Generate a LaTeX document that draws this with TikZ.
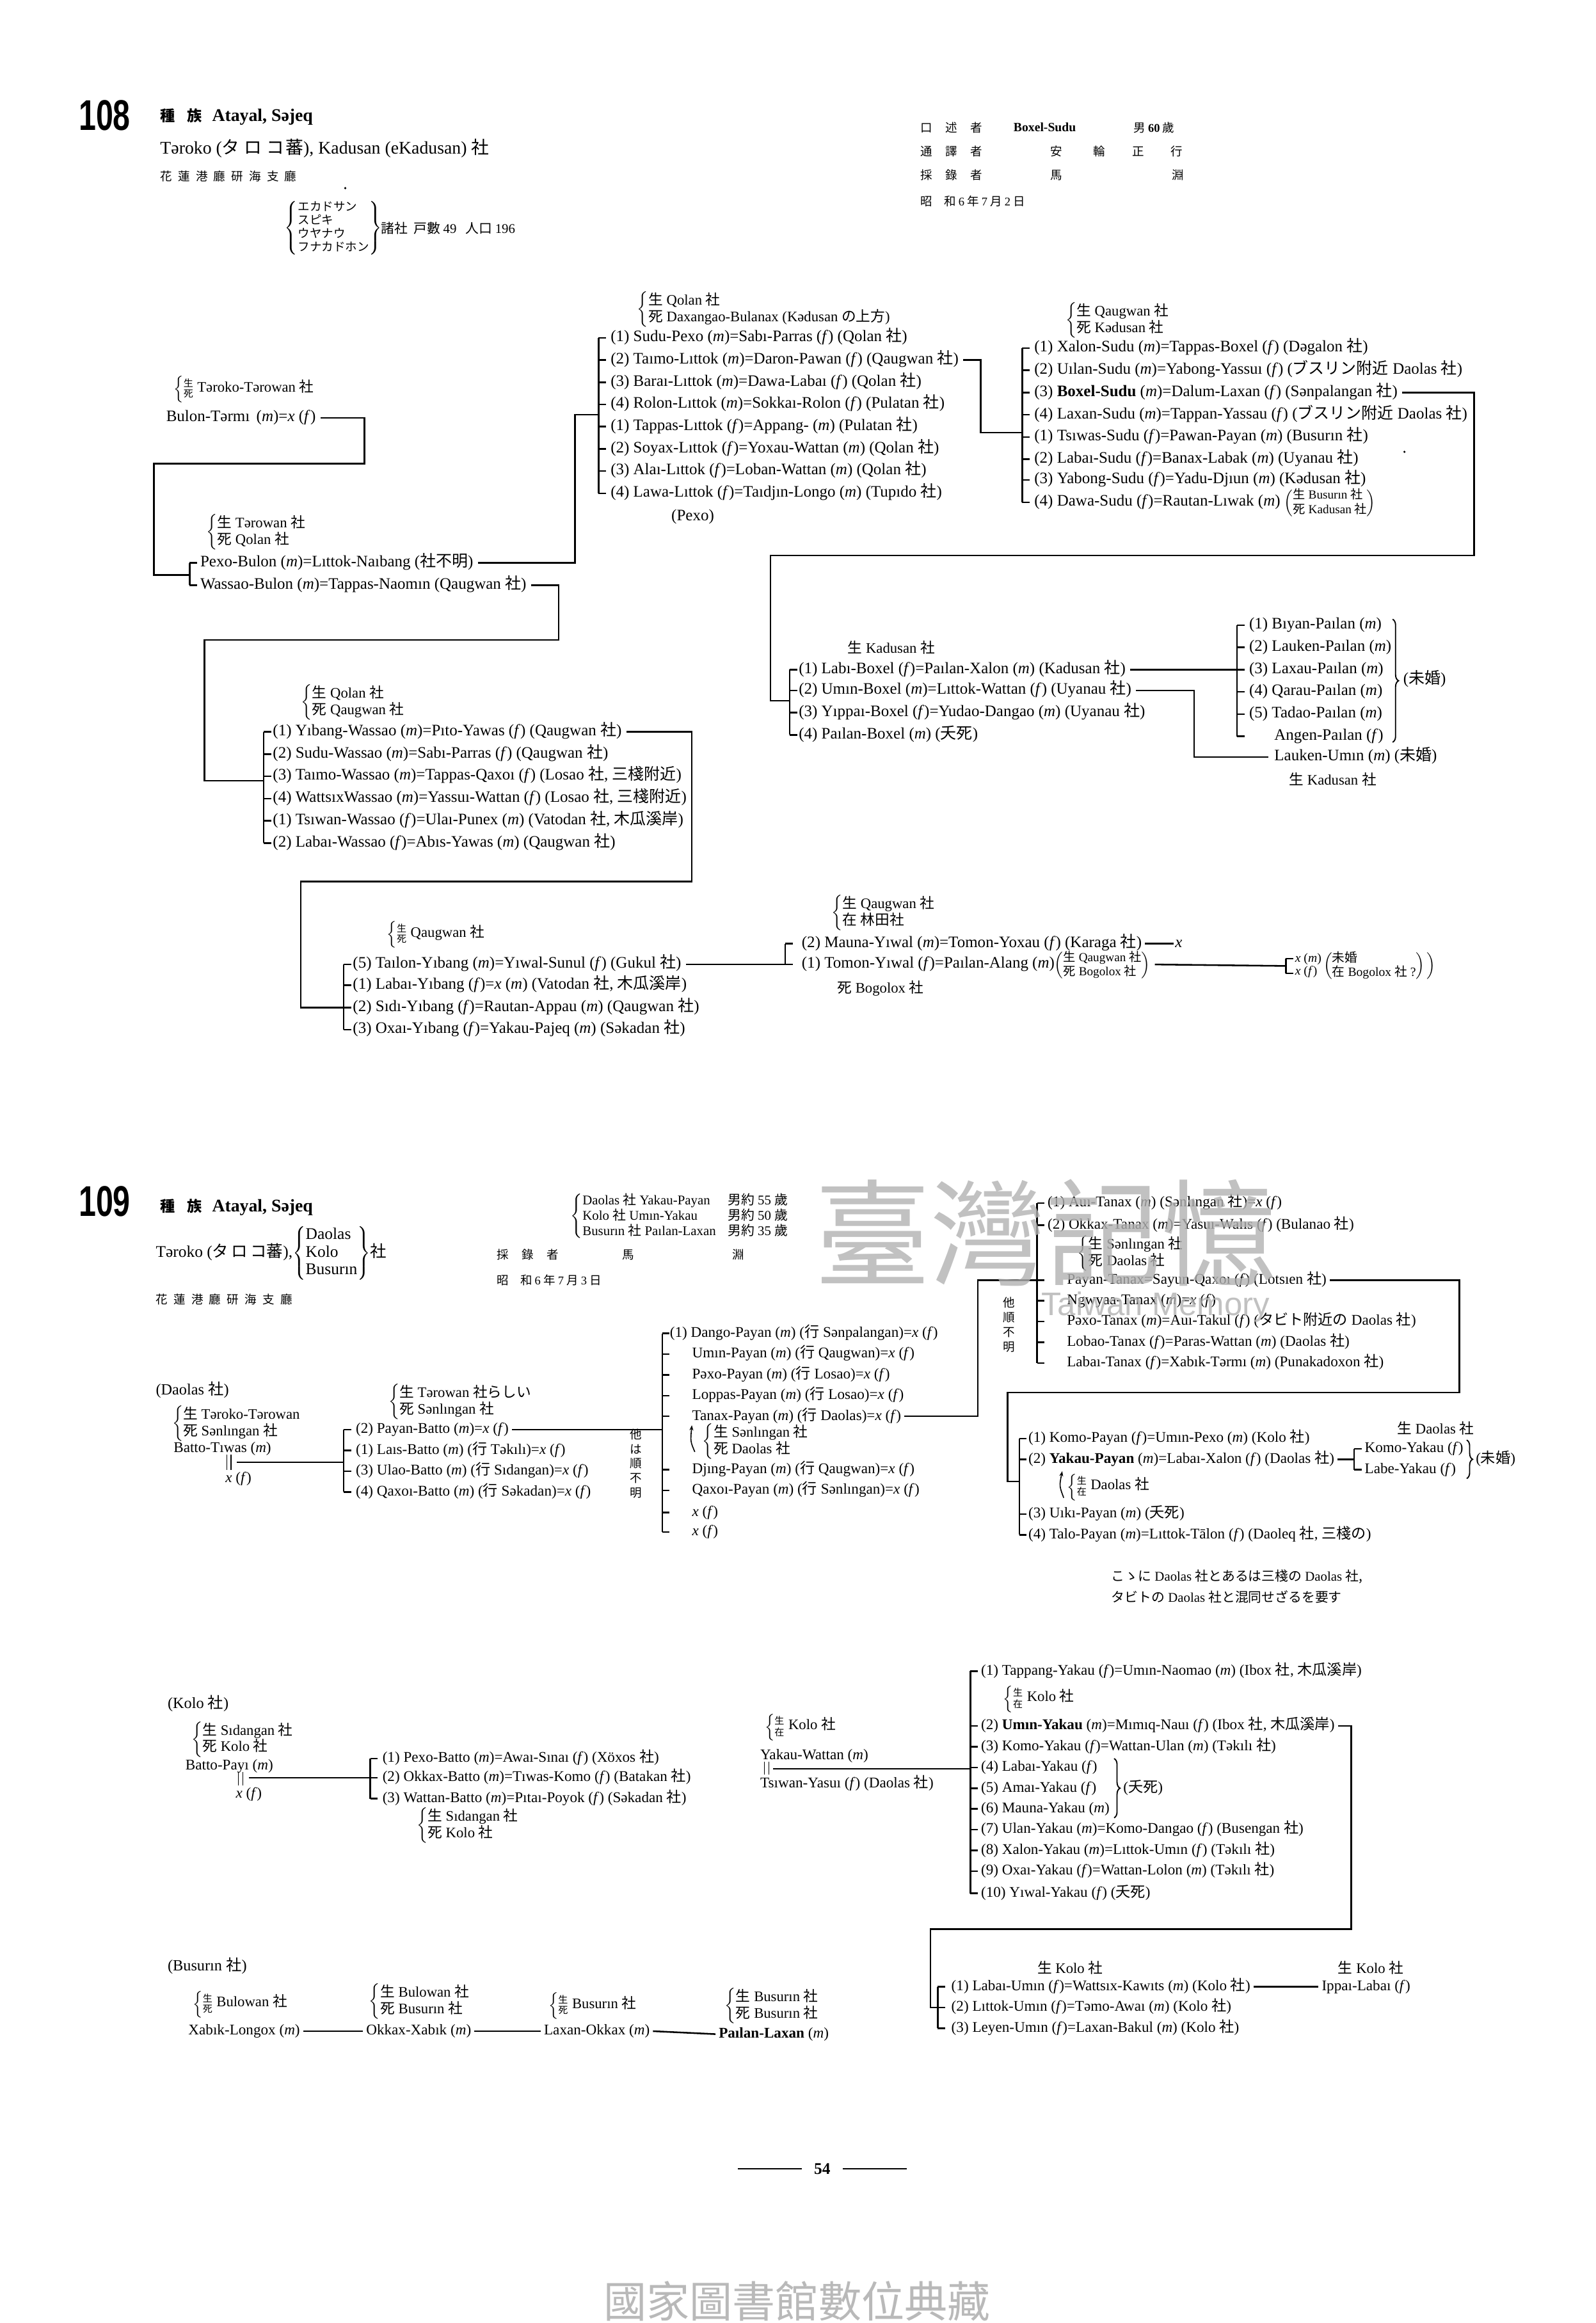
\documentclass[tikz,border=0pt]{standalone}
\usepackage{fontspec}
\setmainfont{Liberation Serif}
\newfontfamily\cjkf{Noto Sans CJK JP}
\newfontfamily\cjktc{Noto Sans CJK TC}
\newfontfamily\hsans{Liberation Sans}
\usetikzlibrary{decorations.pathreplacing,arrows.meta}

\renewcommand\arraystretch{0.82}
\newcommand\ja[1]{{\cjkf #1}}
\newcommand\sha{\ja{社}}
\newcommand\ma{(\textit{m})}
\newcommand\fe{(\textit{f})}
\newcommand\xx{\textit{x}}
\newcommand\gp{\hspace{4pt}}
\newcommand\rowf{\fontsize{10}{12}\selectfont}
\newcommand\rowaf{\fontsize{10.8}{12}\selectfont}
\newcommand\labf{\fontsize{9.8}{12}\selectfont}
\newcommand\parf{\fontsize{8.3}{10.5}\selectfont}
% two-line label with left brace
\newcommand\sd[2]{$\left\{\begin{tabular}{@{}l@{}}#1\\#2\end{tabular}\right.$}
% small stacked kanji in a brace, then one line of text
\newcommand\gsd[3]{{\fontsize{6.5}{8}\selectfont$\left\{\begin{tabular}{@{}c@{}}\ja{#1}\\\ja{#2}\end{tabular}\right.$}\,#3}
% two-line label in parentheses
\newcommand\pd[2]{$\left(\begin{tabular}{@{}l@{}}#1\\#2\end{tabular}\right)$}
% bracket: x, top, bottom, tick rows
\newcommand\brkt[4]{%
  \draw[ln] (#1,#2) -- (#1,#3);
  \foreach \yy in {#4} \draw[ln] (#1,\yy) -- ++(5,0);
}

\begin{document}
\begin{tikzpicture}[x=1pt,y=-1pt,
  ln/.style={line width=1.1pt},
  row/.style={anchor=west, inner sep=0pt, font=\rowf, text height=7pt, text depth=2pt},
  rowa/.style={row, font=\rowaf},
  lab/.style={anchor=west, inner sep=0pt, font=\labf},
  small/.style={anchor=west, inner sep=0pt, font=\fontsize{8.5}{10}\selectfont},
  hd/.style={anchor=west, inner sep=0pt, font=\fontsize{8}{10}\selectfont\cjkf},
  bigbrace/.style={decorate, decoration={brace, amplitude=4pt}, line width=0.8pt}]

\useasboundingbox (0,0) rectangle (1077,1568);
\fill[white] (0,0) rectangle (1077,1568);

% ================= 108 header
\node[anchor=west, inner sep=0pt] (no108) at (53,78) {\hsans\bfseries\fontsize{29}{29}\selectfont\scalebox{0.72}[1]{108}};
\node[anchor=west, inner sep=0pt, font=\fontsize{12}{13}\selectfont] (tr108) at (108,79) {\ja{\fontsize{10}{11}\selectfont\bfseries 種\hspace{8pt}族}\hspace{7pt}\textbf{Atayal, Səjeq}};
\node[anchor=west, inner sep=0pt, font=\fontsize{12}{13}\selectfont] (sh108) at (108,100) {Təroko (\ja{タ\hspace{3pt}ロ\hspace{3pt}コ\hspace{1pt}蕃}), Kadusan (eKadusan) \ja{社}};
\node[hd] (of108) at (108,119) {花\gp 蓮\gp 港\gp 廳\gp 研\gp 海\gp 支\gp 廳};
\fill (233,127) circle (0.8);
\node[anchor=west, inner sep=0pt, font=\fontsize{8}{11}\selectfont] (ka108) at (192,154) {$\left\{\begin{tabular}{@{}l@{}}\ja{エカドサン}\\\ja{スピキ}\\\ja{ウヤナウ}\\\ja{フナカドホン}\end{tabular}\right\}$};
\node[hd, font=\fontsize{9}{10}\selectfont\cjkf] (hh108) at (257,154) {諸社\hspace{4pt}戸數 {\rmfamily 49}\hspace{6pt}人口 {\rmfamily 196}};

\node[hd] (kj1) at (621,86) {口\hspace{9pt}述\hspace{9pt}者};
\node[small] (kj1n) at (684,86) {\textbf{Boxel-Sudu}};
\node[hd] (kj1a) at (765,86) {男 {\rmfamily\bfseries 60} 歲};
\node[hd] (kj2) at (621,102) {通\hspace{9pt}譯\hspace{9pt}者};
\node[hd] (kj2a) at (709,102) {安\hspace{21pt}輪\hspace{18pt}正\hspace{18pt}行};
\node[hd] (kj3) at (621,118) {採\hspace{9pt}錄\hspace{9pt}者};
\node[hd] (kj3a) at (709,118) {馬\hspace{74pt}淵};
\node[hd] (kj4) at (621,136) {昭\hspace{8pt}和 {\rmfamily 6} 年 {\rmfamily 7} 月 {\rmfamily 2} 日};

% ================= 108 left line
\node[lab] (tt1l) at (117,263) {\gsd{生}{死}{Təroko-Tərowan \sha}};
\node[rowa] (bulon) at (112,282) {Bulon-Tərmı\, \ma=\xx{} \fe};
\node[lab] (pbl) at (139,359) {\sd{\ja{生} Tərowan \sha}{\ja{死} Qolan \sha}};
\node[rowa] (pexob) at (135,380) {Pexo-Bulon \ma=Lıttok-Naıbang (\ja{社不明})};
\node[rowa] (wassb) at (135,395) {Wassao-Bulon \ma=Tappas-Naomın (Qaugwan \sha)};
\brkt{128}{380}{395}{380,395}
\coordinate (pbbr) at (128,388);
\draw[ln] ([xshift=3pt]bulon.east) -| (246,313) -| (104,388) -- (pbbr);

% ================= Qolan
\node[lab] (qol) at (430,209) {\sd{\ja{生} Qolan \sha}{\ja{死} Daxangao-Bulanax (Kədusan \ja{の上方})}};
\node[rowa] (q1) at (412,228) {(1) Sudu-Pexo \ma=Sabı-Parras \fe{} (Qolan \sha)};
\node[rowa] (q2) at (412,243) {(2) Taımo-Lıttok \ma=Daron-Pawan \fe{} (Qaugwan \sha)};
\node[rowa] (q3) at (412,258) {(3) Baraı-Lıttok \ma=Dawa-Labaı \fe{} (Qolan \sha)};
\node[rowa] (q4) at (412,273) {(4) Rolon-Lıttok \ma=Sokkaı-Rolon \fe{} (Pulatan \sha)};
\node[rowa] (q5) at (412,288) {(1) Tappas-Lıttok \fe=Appang- \ma{} (Pulatan \sha)};
\node[rowa] (q6) at (412,303) {(2) Soyax-Lıttok \fe=Yoxau-Wattan \ma{} (Qolan \sha)};
\node[rowa] (q7) at (412,318) {(3) Alaı-Lıttok \fe=Loban-Wattan \ma{} (Qolan \sha)};
\node[rowa] (q8) at (412,333) {(4) Lawa-Lıttok \fe=Taıdjın-Longo \ma{} (Tupıdo \sha)};
\node[rowa] (pexo) at (453,349) {(Pexo)};
\brkt{404}{228}{333}{228,243,258,273,288,303,318,333}
\coordinate (qolin) at (404,280);
\draw[ln] ([xshift=3pt]pexob.east) -| (388,280) -- (qolin);

% ================= Qaugwan
\node[lab] (qgl) at (719,216) {\sd{\ja{生} Qaugwan \sha}{\ja{死} Kədusan \sha}};
\node[rowa] (g1) at (698,235) {(1) Xalon-Sudu \ma=Tappas-Boxel \fe{} (Dəgalon \sha)};
\node[rowa] (g2) at (698,250) {(2) Uılan-Sudu \ma=Yabong-Yassuı \fe{} (\ja{ブスリン附近} Daolas \sha)};
\node[rowa] (g3) at (698,265) {(3) \textbf{Boxel-Sudu} \ma=Dalum-Laxan \fe{} (Sənpalangan \sha)};
\node[rowa] (g4) at (698,280) {(4) Laxan-Sudu \ma=Tappan-Yassau \fe{} (\ja{ブスリン附近} Daolas \sha)};
\node[rowa] (g5) at (698,295) {(1) Tsıwas-Sudu \fe=Pawan-Payan \ma{} (Busurın \sha)};
\node[rowa] (g6) at (698,310) {(2) Labaı-Sudu \fe=Banax-Labak \ma{} (Uyanau \sha)};
\node[rowa] (g7) at (698,324) {(3) Yabong-Sudu \fe=Yadu-Djıun \ma{} (Kədusan \sha)};
\node[rowa] (g8) at (698,339) {(4) Dawa-Sudu \fe=Rautan-Lıwak \ma{} {\parf\pd{\ja{生} Busurın \sha}{\ja{死} Kadusan \sha}}};
\fill (948,305) circle (0.8);
\brkt{690}{235}{339}{235,250,265,280,295,310,324,339}
\coordinate (qgin) at (690,292);
\draw[ln] ([xshift=3pt]q2.east) -| (662,292) -- (qgin);

% ================= Kadusan
\node[lab] (kdl) at (572,437) {\ja{生} Kadusan \sha};
\node[rowa] (k1) at (539,452) {(1) Labı-Boxel \fe=Paılan-Xalon \ma{} (Kadusan \sha)};
\node[rowa] (k2) at (539,466) {(2) Umın-Boxel \ma=Lıttok-Wattan \fe{} (Uyanau \sha)};
\node[rowa] (k3) at (539,481) {(3) Yıppaı-Boxel \fe=Yudao-Dangao \ma{} (Uyanau \sha)};
\node[rowa] (k4) at (539,496) {(4) Paılan-Boxel \ma{} (\ja{夭死})};
\brkt{533}{452}{496}{452,466,481,496}
\coordinate (kdin) at (533,473);
\draw[ln] ([xshift=3pt]g3.east) -| (995,375) -| (520,473) -- (kdin);

\node[rowa] (p1) at (843,422) {(1) Bıyan-Paılan \ma};
\node[rowa] (p2) at (843,437) {(2) Lauken-Paılan \ma};
\node[rowa] (p3) at (843,452) {(3) Laxau-Paılan \ma};
\node[rowa] (p4) at (843,467) {(4) Qarau-Paılan \ma};
\node[rowa] (p5) at (843,482) {(5) Tadao-Paılan \ma};
\node[rowa] (p6) at (860,497) {Angen-Paılan \fe};
\brkt{835}{422}{497}{422,437,452,467,482,497}
\draw[bigbrace] (940,418) -- (940,501);
\node[rowa] (mk1) at (947,459) {(\ja{未婚})};
\coordinate (pbr) at (835,452);
\draw[ln] ([xshift=3pt]k1.east) -- (pbr);
\node[rowa] (lumin) at (860,511) {Lauken-Umın \ma{} (\ja{未婚})};
\node[lab] (lukl) at (870,526) {\ja{生} Kadusan \sha};
\draw[ln] ([xshift=3pt]k2.east) -| (806,511) -- ([xshift=-4pt]lumin.west);

% ================= Wassao
\node[lab] (wal) at (203,474) {\sd{\ja{生} Qolan \sha}{\ja{死} Qaugwan \sha}};
\node[rowa] (w1) at (184,494) {(1) Yıbang-Wassao \ma=Pıto-Yawas \fe{} (Qaugwan \sha)};
\node[rowa] (w2) at (184,509) {(2) Sudu-Wassao \ma=Sabı-Parras \fe{} (Qaugwan \sha)};
\node[rowa] (w3) at (184,524) {(3) Taımo-Wassao \ma=Tappas-Qaxoı \fe{} (Losao \sha, \ja{三棧附近})};
\node[rowa] (w4) at (184,539) {(4) WattsıxWassao \ma=Yassuı-Wattan \fe{} (Losao \sha, \ja{三棧附近})};
\node[rowa] (w5) at (184,554) {(1) Tsıwan-Wassao \fe=Ulaı-Punex \ma{} (Vatodan \sha, \ja{木瓜溪岸})};
\node[rowa] (w6) at (184,569) {(2) Labaı-Wassao \fe=Abıs-Yawas \ma{} (Qaugwan \sha)};
\brkt{178}{494}{569}{494,509,524,539,554,569}
\coordinate (wain) at (178,527);
\draw[ln] ([xshift=3pt]wassb.east) -| (377,432) -| (138,527) -- (wain);

% ================= Yibang
\node[lab] (ybl) at (261,631) {\gsd{生}{死}{Qaugwan \sha}};
\node[rowa] (y1) at (238,651) {(5) Taılon-Yıbang \ma=Yıwal-Sunul \fe{} (Gukul \sha)};
\node[rowa] (y2) at (238,665) {(1) Labaı-Yıbang \fe=\xx{} \ma{} (Vatodan \sha, \ja{木瓜溪岸})};
\node[rowa] (y3) at (238,680) {(2) Sıdı-Yıbang \fe=Rautan-Appau \ma{} (Qaugwan \sha)};
\node[rowa] (y4) at (238,695) {(3) Oxaı-Yıbang \fe=Yakau-Pajeq \ma{} (Səkadan \sha)};
\brkt{232}{651}{695}{651,665,680,695}
\coordinate (ybin) at (232,680);
\draw[ln] ([xshift=3pt]w1.east) -| (467,595) -| (203,680) -- (ybin);

\node[lab] (mnl) at (561,616) {\sd{\ja{生} Qaugwan \sha}{\ja{在} \ja{林田社}}};
\node[rowa] (m1) at (541,637) {(2) Mauna-Yıwal \ma=Tomon-Yoxau \fe{} (Karaga \sha)};
\node[rowa] (m2) at (541,651) {(1) Tomon-Yıwal \fe=Paılan-Alang \ma{\parf\pd{\ja{生} Qaugwan \sha}{\ja{死} Bogolox \sha}}};
\node[lab] (bgl) at (565,667) {\ja{死} Bogolox \sha};
\node[rowa] (mx) at (793,637) {\xx};
\brkt{530}{637}{651}{637,651}
\coordinate (mnin) at (530,651);
\draw[ln] ([xshift=3pt]y1.east) -- (mnin);
\draw[ln] ([xshift=2pt]m1.east) -- ([xshift=-1pt]mx.west);
\brkt{868}{647}{657}{647,657}
\coordinate (bgin) at (868,652);
\draw[ln] ([xshift=3pt]m2.east) -- (bgin);
\node[anchor=west, inner sep=0pt, font=\fontsize{8.5}{10}\selectfont] (bgx) at (874,652) {\begin{tabular}{@{}l@{}}\xx{} \ma\\\xx{} \fe\end{tabular}\,\pd{\ja{未婚}}{\ja{在} Bogolox \ja{社} ?}$\left.\vphantom{\begin{tabular}{l}A\\A\end{tabular}}\right)$};

% ================= 109 header
\node[anchor=west, inner sep=0pt] (no109) at (53,811) {\hsans\bfseries\fontsize{29}{29}\selectfont\scalebox{0.72}[1]{109}};
\node[anchor=west, inner sep=0pt, font=\fontsize{12}{13}\selectfont] (tr109) at (108,815) {\ja{\fontsize{10}{11}\selectfont\bfseries 種\hspace{8pt}族}\hspace{7pt}\textbf{Atayal, Səjeq}};
\node[anchor=west, inner sep=0pt, font=\fontsize{11}{14.5}\selectfont] (sh109) at (105,846) {Təroko (\ja{タ\,ロ\,コ蕃}),$\left\{\begin{tabular}{@{}l@{}}Daolas\\Kolo\\Busurın\end{tabular}\right\}$\ja{社}};
\node[hd] (of109) at (105,877) {花\gp 蓮\gp 港\gp 廳\gp 研\gp 海\gp 支\gp 廳};
\node[anchor=west, inner sep=0pt, font=\fontsize{9}{11}\selectfont] (inf109) at (385,821) {$\left\{\begin{tabular}{@{}l@{\hspace{8pt}}l@{}}Daolas \sha{} Yakau-Payan & \ja{男約} 55 \ja{歲}\\Kolo \sha{} Umın-Yakau & \ja{男約} 50 \ja{歲}\\Busurın \sha{} Paılan-Laxan & \ja{男約} 35 \ja{歲}\end{tabular}\right.$};
\node[hd] (kr1) at (335,847) {採\hspace{9pt}錄\hspace{9pt}者};
\node[hd] (kr1a) at (420,847) {馬\hspace{66pt}淵};
\node[hd] (kr2) at (335,864) {昭\hspace{8pt}和 {\rmfamily 6} 年 {\rmfamily 7} 月 {\rmfamily 3} 日};

% ================= Daolas
\node[anchor=west, inner sep=0pt, font=\fontsize{10.5}{12}\selectfont] (dlh) at (105,938) {(Daolas \sha)};
\node[lab] (btl) at (116,961) {\sd{\ja{生} Təroko-Tərowan}{\ja{死} Sənlıngan \sha}};
\node[row] (bt) at (117,978) {Batto-Tıwas \ma};
\draw[line width=0.6pt] (153,982) -- (153,992) (156,982) -- (156,992);
\node[row] (btx) at (152,998) {\xx{} \fe};
\coordinate (bteq) at (160,987);
\node[lab] (pbtl) at (262,946) {\sd{\ja{生} Tərowan \ja{社らしい}}{\ja{死} Sənlıngan \sha}};
\node[row] (b2) at (240,965) {(2) Payan-Batto \ma=\xx{} \fe};
\node[row] (b1) at (240,979) {(1) Laıs-Batto \ma{} (\ja{行} Təkılı)=\xx{} \fe};
\node[row] (b3) at (240,993) {(3) Ulao-Batto \ma{} (\ja{行} Sıdangan)=\xx{} \fe};
\node[row] (b4) at (240,1007) {(4) Qaxoı-Batto \ma{} (\ja{行} Səkadan)=\xx{} \fe};
\brkt{232}{965}{1007}{965,979,993,1007}
\coordinate (bbin) at (232,987);
\draw[ln] (bteq) -- (bbin);
\node[hd] (hj1) at (425,988) {\shortstack{他\\は\\順\\不\\明}};

\node[row] (c1) at (452,900) {(1) Dango-Payan \ma{} (\ja{行} Sənpalangan)=\xx{} \fe};
\node[row] (c2) at (467,914) {Umın-Payan \ma{} (\ja{行} Qaugwan)=\xx{} \fe};
\node[row] (c3) at (467,928) {Pəxo-Payan \ma{} (\ja{行} Losao)=\xx{} \fe};
\node[row] (c4) at (467,942) {Loppas-Payan \ma{} (\ja{行} Losao)=\xx{} \fe};
\node[row] (c5) at (467,956) {Tanax-Payan \ma{} (\ja{行} Daolas)=\xx{} \fe};
\node[lab] (c5l) at (474,973) {\sd{\ja{生} Sənlıngan \sha}{\ja{死} Daolas \sha}};
\draw[-{Stealth[length=3.5pt]}, line width=0.7pt] (469,980) .. controls (466,973) .. (467,962);
\node[row] (c6) at (467,992) {Djıng-Payan \ma{} (\ja{行} Qaugwan)=\xx{} \fe};
\node[row] (c7) at (467,1006) {Qaxoı-Payan \ma{} (\ja{行} Sənlıngan)=\xx{} \fe};
\node[row] (c8) at (467,1021) {\xx{} \fe};
\node[row] (c9) at (467,1034) {\xx{} \fe};
\brkt{447}{900}{1034}{900,914,928,942,956,992,1006,1021,1034}
\coordinate (pyin) at (447,965);
\draw[ln] ([xshift=2pt]b2.east) -- (pyin);

\node[row] (t1) at (707,812) {(1) Auı-Tanax \ma{} (Sənlıngan \sha)=\xx{} \fe};
\node[row] (t2) at (707,827) {(2) Okkax-Tanax \ma=Yasuı-Walıs \fe{} (Bulanao \sha)};
\node[lab] (t2l) at (727,846) {\sd{\ja{生} Sənlıngan \sha}{\ja{死} Daolas \sha}};
\node[row] (t3) at (720,864) {Payan-Tanax=Sayun-Qaxoı \fe{} (Lotsıen \sha)};
\node[row] (t4) at (720,878) {Ngwyaa-Tanax \ma=\xx{} \fe};
\node[row] (t5) at (720,892) {Pəxo-Tanax \ma=Auı-Takul \fe{} (\ja{タビト附近の} Daolas \sha)};
\node[row] (t6) at (720,906) {Lobao-Tanax \fe=Paras-Wattan \ma{} (Daolas \sha)};
\node[row] (t7) at (720,920) {Labaı-Tanax \fe=Xabık-Tərmı \ma{} (Punakadoxon \sha)};
\brkt{700}{812}{920}{812,827,864,878,892,906,920}
\node[hd] (hj2) at (677,894) {\shortstack{他\\順\\不\\明}};
\coordinate (tnin) at (700,864);
\draw[ln] ([xshift=2pt]c5.east) -| (660,864) -- (tnin);

\node[row] (kp1) at (694,971) {(1) Komo-Payan \fe=Umın-Pexo \ma{} (Kolo \sha)};
\node[row] (kp2) at (694,985) {(2) \textbf{Yakau-Payan} \ma=Labaı-Xalon \fe{} (Daolas \sha)};
\node[lab] (kp2l) at (720,1004) {\gsd{生}{在}{Daolas \sha}};
\draw[-{Stealth[length=3.5pt]}, line width=0.7pt] (718,1011) .. controls (715,1003) .. (717,993);
\node[row] (kp3) at (694,1022) {(3) Uıkı-Payan \ma{} (\ja{夭死})};
\node[row] (kp4) at (694,1036) {(4) Talo-Payan \ma=Lıttok-Tālon \fe{} (Daoleq \sha, \ja{三棧の})};
\brkt{688}{971}{1036}{971,985,1022,1036}
\coordinate (kpin) at (688,1000);
\draw[ln] ([xshift=2pt]t3.east) -| (985,940) -| (680,1000) -- (kpin);
\node[lab] (kyl) at (943,964) {\ja{生} Daolas \sha};
\node[row] (ky1) at (921,978) {Komo-Yakau \fe};
\node[row] (ky2) at (921,992) {Labe-Yakau \fe};
\brkt{914}{978}{992}{978,992}
\coordinate (kyin) at (914,985);
\draw[ln] ([xshift=2pt]kp2.east) -- (kyin);
\draw[bigbrace] (990,972) -- (990,998);
\node[row] (mk2) at (996,985) {(\ja{未婚})};
\node[anchor=west, inner sep=0pt, font=\fontsize{9}{10}\selectfont] (nt1) at (750,1064) {\ja{こゝに} Daolas \ja{社とあるは三棧の} Daolas \ja{社,}};
\node[anchor=west, inner sep=0pt, font=\fontsize{9}{10}\selectfont] (nt2) at (750,1078) {\ja{タビトの} Daolas \ja{社と混同せざるを要す}};

% ================= Kolo
\node[anchor=west, inner sep=0pt, font=\fontsize{10.5}{12}\selectfont] (klh) at (113,1150) {(Kolo \sha)};
\node[lab] (bpl) at (129,1174) {\sd{\ja{生} Sıdangan \sha}{\ja{死} Kolo \sha}};
\node[row] (bp) at (125,1192) {Batto-Payı \ma};
\draw[line width=0.6pt] (161,1196) -- (161,1205) (164,1196) -- (164,1205);
\node[row] (bpx) at (159,1211) {\xx{} \fe};
\coordinate (bpeq) at (168,1200);
\node[row] (e1) at (258,1187) {(1) Pexo-Batto \ma=Awaı-Sınaı \fe{} (Xöxos \sha)};
\node[row] (e2) at (258,1200) {(2) Okkax-Batto \ma=Tıwas-Komo \fe{} (Batakan \sha)};
\node[row] (e3) at (258,1214) {(3) Wattan-Batto \ma=Pıtaı-Poyok \fe{} (Səkadan \sha)};
\node[lab] (e3l) at (281,1232) {\sd{\ja{生} Sıdangan \sha}{\ja{死} Kolo \sha}};
\brkt{250}{1187}{1214}{1187,1200,1214}
\coordinate (ebin) at (250,1200);
\draw[ln] (bpeq) -- (ebin);

\node[lab] (ywl) at (516,1166) {\gsd{生}{在}{Kolo \sha}};
\node[row] (yw) at (513,1185) {Yakau-Wattan \ma};
\draw[line width=0.6pt] (516,1189) -- (516,1198) (519,1189) -- (519,1198);
\node[row] (tyas) at (513,1204) {Tsıwan-Yasuı \fe{} (Daolas \sha)};
\coordinate (yweq) at (522,1194);
\node[row] (ko1) at (662,1128) {(1) Tappang-Yakau \fe=Umın-Naomao \ma{} (Ibox \sha, \ja{木瓜溪岸})};
\node[lab] (ko1l) at (677,1147) {\gsd{生}{在}{Kolo \sha}};
\node[row] (ko2) at (662,1165) {(2) \textbf{Umın-Yakau} \ma=Mımıq-Nauı \fe{} (Ibox \sha, \ja{木瓜溪岸})};
\node[row] (ko3) at (662,1179) {(3) Komo-Yakau \fe=Wattan-Ulan \ma{} (Təkılı \sha)};
\node[row] (ko4) at (662,1193) {(4) Labaı-Yakau \fe};
\node[row] (ko5) at (662,1207) {(5) Amaı-Yakau \fe};
\node[row] (ko6) at (662,1221) {(6) Mauna-Yakau \ma};
\node[row] (ko7) at (662,1235) {(7) Ulan-Yakau \ma=Komo-Dangao \fe{} (Busengan \sha)};
\node[row] (ko8) at (662,1249) {(8) Xalon-Yakau \ma=Lıttok-Umın \fe{} (Təkılı \sha)};
\node[row] (ko9) at (662,1263) {(9) Oxaı-Yakau \fe=Wattan-Lolon \ma{} (Təkılı \sha)};
\node[row] (ko10) at (662,1278) {(10) Yıwal-Yakau \fe{} (\ja{夭死})};
\draw[bigbrace] (752,1187) -- (752,1227);
\node[row] (ysi) at (758,1207) {(\ja{夭死})};
\brkt{655}{1128}{1278}{1128,1165,1179,1193,1207,1221,1235,1249,1263,1278}
\coordinate (koin) at (655,1194);
\draw[ln] (yweq) -- (koin);

\node[lab] (lul) at (700,1328) {\ja{生} Kolo \sha};
\node[row] (lu1) at (642,1341) {(1) Labaı-Umın \fe=Wattsıx-Kawıts \ma{} (Kolo \sha)};
\node[row] (lu2) at (642,1355) {(2) Lıttok-Umın \fe=Təmo-Awaı \ma{} (Kolo \sha)};
\node[row] (lu3) at (642,1369) {(3) Leyen-Umın \fe=Laxan-Bakul \ma{} (Kolo \sha)};
\brkt{633}{1341}{1369}{1341,1355,1369}
\coordinate (luin) at (633,1355);
\draw[ln] ([xshift=2pt]ko2.east) -| (912,1302) -| (628,1355) -- (luin);
\node[lab] (ipl) at (903,1328) {\ja{生} Kolo \sha};
\node[row] (ip) at (892,1341) {Ippaı-Labaı \fe};
\draw[ln] ([xshift=2pt]lu1.east) -- ([xshift=-2pt]ip.west);

% ================= Busurin
\node[anchor=west, inner sep=0pt, font=\fontsize{10.5}{12}\selectfont] (bsh) at (113,1327) {(Busurın \sha)};
\node[lab] (bu1l) at (130,1353) {\gsd{生}{死}{Bulowan \sha}};
\node[row] (bu1) at (127,1371) {Xabık-Longox \ma};
\node[lab] (bu2l) at (249,1351) {\sd{\ja{生} Bulowan \sha}{\ja{死} Busurın \sha}};
\node[row] (bu2) at (247,1371) {Okkax-Xabık \ma};
\node[lab] (bu3l) at (370,1354) {\gsd{生}{死}{Busurın \sha}};
\node[row] (bu3) at (367,1371) {Laxan-Okkax \ma};
\node[lab] (bu4l) at (489,1354) {\sd{\ja{生} Busurın \sha}{\ja{死} Busurın \sha}};
\node[row] (bu4) at (485,1373) {\textbf{Paılan-Laxan} \ma};
\draw[ln] ([xshift=2pt]bu1.east) -- ([xshift=-2pt]bu2.west);
\draw[ln] ([xshift=2pt]bu2.east) -- ([xshift=-2pt]bu3.west);
\draw[ln] ([xshift=2pt]bu3.east) -- ([xshift=-2pt]bu4.west);

% ================= page number, watermark, footer
\node[anchor=center, inner sep=0pt, font=\fontsize{11}{12}\selectfont\bfseries] (pg) at (555,1464) {54};
\coordinate (pgl) at (498,1464);
\coordinate (pgr) at (612,1464);
\draw[line width=0.8pt] (pgl) -- ([xshift=-8pt]pg.west);
\draw[line width=0.8pt] ([xshift=8pt]pg.east) -- (pgr);

\node[text=gray!60, opacity=0.8, inner sep=0pt, font=\cjktc\fontsize{78}{78}\selectfont] (wm) at (706,832) {臺灣記憶};
\node[text=gray!60, opacity=0.8, inner sep=0pt, font=\hsans\fontsize{22}{22}\selectfont] (wmt) at (780,882) {Taiwan Memory};
\node[text=gray!55, inner sep=0pt, font=\cjktc\fontsize{29}{29}\selectfont] (ft) at (538,1553) {國家圖書館數位典藏};
\end{tikzpicture}
\end{document}
